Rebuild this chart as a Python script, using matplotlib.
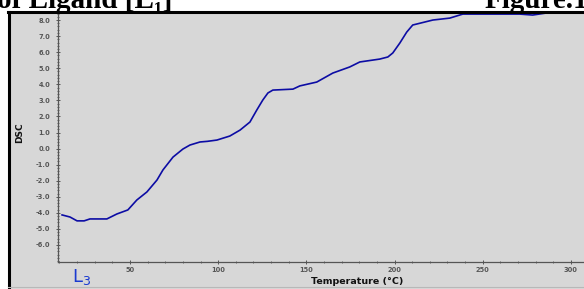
import matplotlib
matplotlib.use("Agg")
import matplotlib.pyplot as plt
from matplotlib.patches import Rectangle
from matplotlib.ticker import MultipleLocator, FormatStrFormatter

# DSC trace (temperature in C, DSC signal)
temperature = [11.5, 16.0, 20.0, 24.0, 27.3, 36.9, 42.6, 48.8, 53.9, 59.6,
               65.3, 68.7, 74.4, 80.0, 84.0, 89.7, 93.9, 99.3, 106.6, 112.4,
               118.0, 121.9, 125.3, 128.2, 131.0, 142.4, 146.3, 155.9, 165.0,
               174.6, 180.3, 191.6, 196.2, 199.0, 203.0, 206.9, 210.3, 221.7,
               231.3, 238.7, 270.9, 278.3, 286.2, 302.1, 307.4]
dsc = [-4.13, -4.26, -4.50, -4.50, -4.38, -4.38, -4.07, -3.82, -3.20, -2.70,
       -1.96, -1.33, -0.53, -0.03, 0.22, 0.41, 0.45, 0.53, 0.78, 1.15,
       1.65, 2.40, 3.02, 3.46, 3.64, 3.70, 3.90, 4.14, 4.70,
       5.08, 5.39, 5.57, 5.70, 5.95, 6.57, 7.25, 7.69, 8.00,
       8.12, 8.37, 8.37, 8.31, 8.44, 8.50, 8.55]

x_label = "Temperature (\u00b0C)"
y_label = "DSC"
header_left = "of Ligand [L\u2081]"
header_right = "Figure.1"
note = "L$_3$"

W, H = 584, 289
fig = plt.figure(figsize=(W / 100, H / 100), dpi=100)
fig.patch.set_facecolor("white")

# grey screenshot panel with black frame on top/left
bg = "#d7d7d7"
fig.patches.append(Rectangle((8 / W, 0), 1 - 8 / W, 1 - 12 / H, transform=fig.transFigure,
                             facecolor=bg, edgecolor="none", zorder=-5))
fig.lines.append(plt.Line2D([8 / W, 1], [1 - 12 / H, 1 - 12 / H], transform=fig.transFigure,
                            color="black", lw=2.2, zorder=5))
fig.lines.append(plt.Line2D([8.5 / W, 8.5 / W], [0, 1 - 12 / H], transform=fig.transFigure,
                            color="black", lw=2.2, zorder=5))
fig.lines.append(plt.Line2D([8 / W, 1], [2 / H, 2 / H], transform=fig.transFigure,
                            color="#b8b8b8", lw=0.8, zorder=5))

ax = fig.add_axes([58 / W, 1 - 262 / H, 1 - 58 / W, (262 - 12) / H])
ax.set_facecolor(bg)
ax.plot(temperature, dsc, color="#0c0ca4", lw=1.2, zorder=3)

ax.set_xlim(9.2, 307.4)
ax.set_ylim(-7.06, 8.5)
for s in ["top", "right"]:
    ax.spines[s].set_visible(False)
for s in ["left", "bottom"]:
    ax.spines[s].set_color("#555555")
    ax.spines[s].set_linewidth(0.9)

ax.xaxis.set_major_locator(MultipleLocator(50))
ax.xaxis.set_minor_locator(MultipleLocator(10))
ax.yaxis.set_major_locator(MultipleLocator(1))
ax.yaxis.set_minor_locator(MultipleLocator(0.2))
ax.yaxis.set_major_formatter(FormatStrFormatter("%.1f"))
ax.set_yticks([v for v in range(-6, 9)])
ax.tick_params(axis="both", which="major", labelsize=4.8, colors="#555555",
               length=3, width=0.7, direction="inout")
ax.tick_params(axis="x", which="major", pad=2)
ax.tick_params(axis="y", which="major", pad=4)
ax.tick_params(axis="both", which="minor", length=1.5, width=0.6, colors="#555555",
               direction="inout")
for lab in ax.get_xticklabels() + ax.get_yticklabels():
    lab.set_fontweight("bold")

fig.text(357 / W, 1 - 282 / H, x_label, fontsize=6.8, color="#111111",
         ha="center", va="center", fontweight="bold")
fig.text(20 / W, 1 - 133 / H, y_label, rotation=90, fontsize=6.5, color="#111111",
         ha="center", va="center", fontweight="bold")

fig.text(82 / W, 1 - 277 / H, note, fontsize=13, color="#1a3ad0", ha="center", va="center")

fig.text(-3 / W, 1 - 8 / H, header_left, fontsize=21, fontweight="bold", family="Liberation Serif",
         ha="left", va="baseline")
fig.text(1 + 4 / W, 1 - 8 / H, header_right, fontsize=21, fontweight="bold", family="Liberation Serif",
         ha="right", va="baseline")

fig.savefig("out.png", dpi=100, facecolor=fig.get_facecolor())
